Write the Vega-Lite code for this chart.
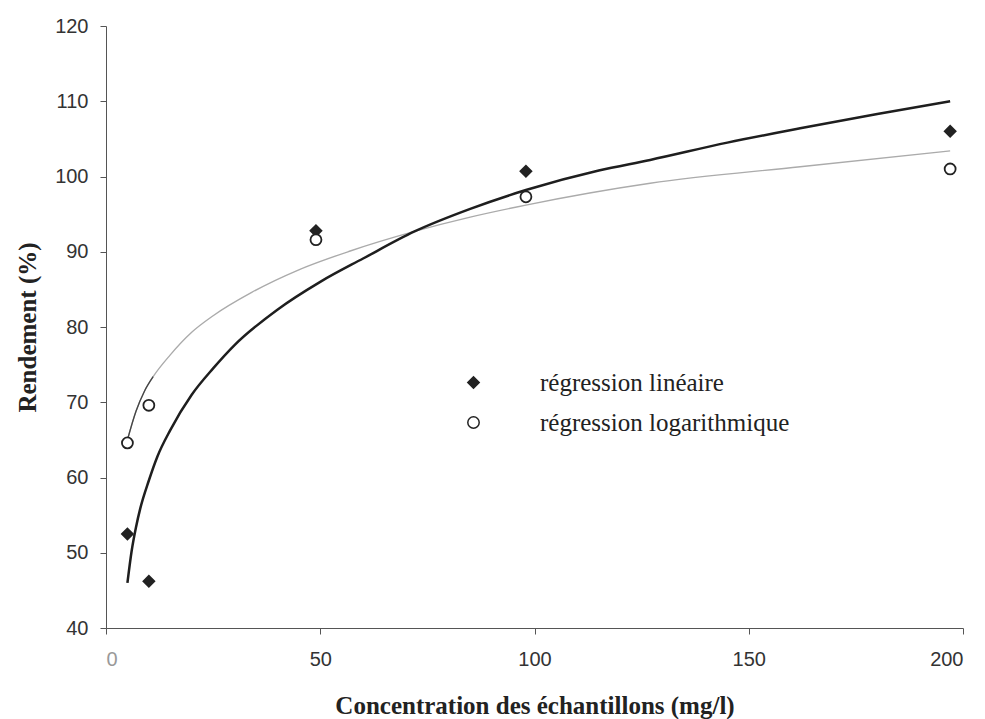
{
  "$schema": "https://vega.github.io/schema/vega-lite/v6.json",
  "width": 857,
  "height": 602,
  "autosize": "none",
  "padding": {"left": 106, "top": 26, "right": 22, "bottom": 91},
  "background": "white",
  "config": {
    "view": {"stroke": null},
    "axis": {
      "grid": false,
      "domainColor": "#555",
      "tickColor": "#555",
      "tickSize": 6,
      "labelFont": "Liberation Sans",
      "labelFontSize": 20,
      "labelColor": "#333",
      "titleFont": "Liberation Serif",
      "titleFontSize": 25,
      "titleFontWeight": "bold",
      "titleColor": "#222"
    },
    "legend": {
      "labelLimit": 0
    }
  },
  "datasets": {
    "points": [
      {"conc": 5, "rend": 52.5, "serie": "régression linéaire"},
      {"conc": 10, "rend": 46.2, "serie": "régression linéaire"},
      {"conc": 49, "rend": 92.8, "serie": "régression linéaire"},
      {"conc": 98, "rend": 100.7, "serie": "régression linéaire"},
      {"conc": 197, "rend": 106.0, "serie": "régression linéaire"},
      {"conc": 5, "rend": 64.6, "serie": "régression logarithmique"},
      {"conc": 10, "rend": 69.6, "serie": "régression logarithmique"},
      {"conc": 49, "rend": 91.6, "serie": "régression logarithmique"},
      {"conc": 98, "rend": 97.3, "serie": "régression logarithmique"},
      {"conc": 197, "rend": 101.0, "serie": "régression logarithmique"}
    ],
    "curveLin": [
      {"conc": 5, "rend": 46.0},
      {"conc": 6, "rend": 50.3},
      {"conc": 7, "rend": 53.4},
      {"conc": 8, "rend": 55.9},
      {"conc": 10, "rend": 59.6},
      {"conc": 12, "rend": 62.8},
      {"conc": 15, "rend": 66.3},
      {"conc": 20, "rend": 71.0},
      {"conc": 25, "rend": 74.5},
      {"conc": 30, "rend": 77.6},
      {"conc": 40, "rend": 82.3},
      {"conc": 50, "rend": 86.0},
      {"conc": 60, "rend": 89.1},
      {"conc": 72, "rend": 92.7},
      {"conc": 85, "rend": 95.7},
      {"conc": 98, "rend": 98.2},
      {"conc": 115, "rend": 100.8},
      {"conc": 127, "rend": 102.2},
      {"conc": 145, "rend": 104.5},
      {"conc": 162, "rend": 106.4},
      {"conc": 180, "rend": 108.3},
      {"conc": 197, "rend": 110.0}
    ],
    "curveLog": [
      {"conc": 5, "rend": 65.0},
      {"conc": 7, "rend": 68.8},
      {"conc": 9, "rend": 71.5},
      {"conc": 11, "rend": 73.4},
      {"conc": 15, "rend": 76.3},
      {"conc": 20, "rend": 79.3},
      {"conc": 25, "rend": 81.5},
      {"conc": 34, "rend": 84.6},
      {"conc": 45, "rend": 87.6},
      {"conc": 57, "rend": 90.1},
      {"conc": 72, "rend": 92.7},
      {"conc": 85, "rend": 94.6},
      {"conc": 98, "rend": 96.2},
      {"conc": 127, "rend": 99.1},
      {"conc": 162, "rend": 101.3},
      {"conc": 197, "rend": 103.4}
    ]
  },
  "encoding": {
    "x": {
      "field": "conc",
      "type": "quantitative",
      "scale": {"domain": [0, 200], "nice": false, "zero": false},
      "axis": {
        "values": [0, 50, 100, 150, 200],
        "title": "Concentration des échantillons (mg/l)",
        "labelPadding": 15,
        "titlePadding": 24,
        "labelColor": {"condition": {"test": "datum.value === 0", "value": "#999"}, "value": "#333"}
      }
    },
    "y": {
      "field": "rend",
      "type": "quantitative",
      "scale": {"domain": [40, 120], "nice": false, "zero": false},
      "axis": {
        "values": [40, 50, 60, 70, 80, 90, 100, 110, 120],
        "title": "Rendement (%)",
        "labelPadding": 12,
        "titlePadding": 14
      }
    }
  },
  "layer": [
    {
      "data": {"name": "curveLog"},
      "mark": {"type": "line", "color": "#ababab", "strokeWidth": 1.4, "interpolate": "monotone"}
    },
    {
      "data": {"name": "curveLog"},
      "transform": [{"filter": "datum.conc <= 11"}],
      "mark": {"type": "line", "color": "#444", "strokeWidth": 1.3, "interpolate": "monotone"}
    },
    {
      "data": {"name": "curveLin"},
      "mark": {"type": "line", "color": "#1e1e1e", "strokeWidth": 2.5, "interpolate": "monotone"}
    },
    {
      "data": {"name": "points"},
      "mark": {"type": "point", "filled": true, "stroke": "#222", "strokeWidth": 1.8, "size": 120, "opacity": 1},
      "encoding": {
        "shape": {
          "field": "serie",
          "type": "nominal",
          "scale": {"domain": ["régression linéaire", "régression logarithmique"], "range": ["diamond", "circle"]},
          "legend": {
            "title": null,
            "orient": "none",
            "legendX": 355,
            "legendY": 344,
            "padding": 0,
            "labelFont": "Liberation Serif",
            "labelFontSize": 25,
            "labelColor": "#222",
            "labelOffset": 54,
            "labelLimit": 0,
            "rowPadding": 14,
            "symbolSize": 130,
            "encode": {
              "symbols": {
                "update": {
                  "stroke": {"value": "#222"},
                  "strokeWidth": {"value": 1.8},
                  "size": {"value": 130},
                  "opacity": {"value": 1}
                }
              }
            }
          }
        },
        "fill": {
          "field": "serie",
          "type": "nominal",
          "scale": {"domain": ["régression linéaire", "régression logarithmique"], "range": ["#222222", "#ffffff"]},
          "legend": {
            "title": null,
            "orient": "none",
            "legendX": 355,
            "legendY": 344,
            "padding": 0,
            "labelFont": "Liberation Serif",
            "labelFontSize": 25,
            "labelColor": "#222",
            "labelOffset": 54,
            "labelLimit": 0,
            "rowPadding": 14,
            "symbolSize": 130,
            "encode": {
              "symbols": {
                "update": {
                  "stroke": {"value": "#222"},
                  "strokeWidth": {"value": 1.8},
                  "size": {"value": 130},
                  "opacity": {"value": 1}
                }
              }
            }
          }
        }
      }
    }
  ]
}
